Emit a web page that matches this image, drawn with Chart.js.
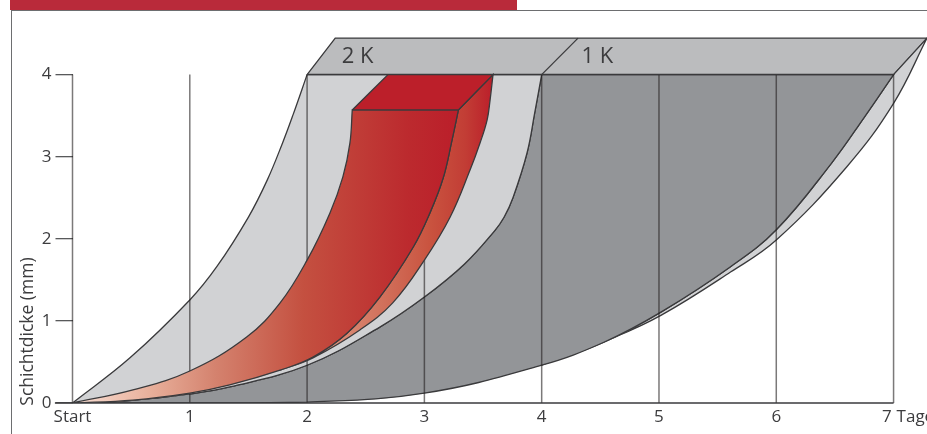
<!DOCTYPE html>
<html>
<head>
<meta charset="utf-8">
<script src="https://cdn.jsdelivr.net/npm/chart.js@4/dist/chart.umd.js"></script>
<style>
  html, body { margin: 0; background: #fff; overflow: hidden; }
  #wrap { position: relative; width: 927px; height: 434px; }
  #bar { position: absolute; left: 10px; top: 0; width: 507px; height: 10px; background: #b92a3a; }
  #frame { position: absolute; left: 11px; top: 10px; right: 0; bottom: 0; border-left: 1.5px solid #6d6e70; border-top: 1.5px solid #6d6e70; }
  canvas { position: absolute; left: 0; top: 0; }
</style>
</head>
<body>
<div id="wrap">
  <div id="bar"></div>
  <div id="frame"></div>
  <canvas id="chart" width="927" height="434"></canvas>
</div>
<script>
const xTickValues = [0, 1, 2, 3, 4, 5, 6, 7];
const xTickLabels = ['Start', '1', '2', '3', '4', '5', '6', '7   '];
const yTickValues = [0, 1, 2, 3, 4];
const yAxisTitle = 'Schichtdicke (mm)';
const xUnit = 'Tage';
const bandLabels = ['2 K', '1 K'];
const bandLabelDays = [2.295, 4.34];

// curves (days / mm)
const upper2kDays = [0, 0.49, 1, 1.23, 1.5, 1.66, 1.79, 1.88, 2];
const upper2kMm = [0, 0.55, 1.255, 1.66, 2.265, 2.715, 3.165, 3.51, 4];
const lower2kDays = [0, 0.486, 1, 1.34, 2, 2.62, 3, 3.34, 3.6, 3.68, 3.755, 3.875, 3.94, 4];
const lower2kMm = [0, 0.03, 0.11, 0.195, 0.46, 0.925, 1.29, 1.69, 2.1, 2.265, 2.5, 3.045, 3.53, 4];
const upper1kDays = [0, 1.09, 2, 3, 4, 4.53, 5.02, 5.61, 6, 6.47, 6.75, 7];
const upper1kMm = [0, 0, 0.01, 0.12, 0.46, 0.74, 1.11, 1.66, 2.11, 2.92, 3.48, 4];
const lower1kDays = [4, 4.62, 5.02, 5.61, 6, 6.6, 7, 7.285];
const lower1kMm = [0.46, 0.8, 1.07, 1.595, 1.985, 2.875, 3.65, 4.445];
const redLeftDays = [0, 0.515, 1, 1.485, 1.77, 2, 2.195, 2.305, 2.365, 2.385];
const redLeftMm = [0, 0.16, 0.39, 0.805, 1.22, 1.74, 2.315, 2.755, 3.165, 3.57];
const redRightDays = [0, 0.515, 1, 1.34, 1.77, 2.05, 2.34, 2.62, 2.905, 3.05, 3.16, 3.235, 3.29];
const redRightMm = [0, 0.035, 0.12, 0.22, 0.4, 0.56, 0.85, 1.29, 1.9, 2.325, 2.74, 3.2, 3.57];
const redSideDays = [1.77, 2.05, 2.45, 2.73, 3, 3.22, 3.39, 3.475, 3.535, 3.56, 3.585];
const redSideMm = [0.4, 0.55, 0.89, 1.22, 1.74, 2.265, 2.84, 3.17, 3.45, 3.69, 4];

const FONT = '"Open Sans", "Noto Sans", sans-serif';
const INK = '#3c3c3e';
const LIGHT = '#d1d2d4';
const DARK = '#939598';
const BAND = '#bbbcbe';

const pts = (xs, ys) => xs.map((x, i) => ({ x, y: ys[i] }));
const upper2k = pts(upper2kDays, upper2kMm);
const lower2k = pts(lower2kDays, lower2kMm);
const upper1k = pts(upper1kDays, upper1kMm);
const lower1k = pts(lower1kDays, lower1kMm);
const redLeft = pts(redLeftDays, redLeftMm);
const redRight = pts(redRightDays, redRightMm);
const redSide = pts(redSideDays, redSideMm);

// a repeated point keeps a sharp corner in the spline
const closed = (...parts) => {
  const path = parts.flat();
  return [...path, path[0]];
};

function shape(data, backgroundColor) {
  return { data, backgroundColor, borderColor: '#3a3a3c', borderWidth: 1.3, fill: 'shape', tension: 0.4, pointRadius: 0 };
}

function straight(data, borderColor, borderWidth) {
  return { data, borderColor, borderWidth, fill: false, tension: 0, pointRadius: 0, clip: false };
}

// horizontal gradient, stops given in days
function gradient(stops) {
  return context => {
    const { chart } = context;
    if (!chart.chartArea) return '#c0392b';
    const x = chart.scales.x;
    const x0 = x.getPixelForValue(stops[0][0]);
    const x1 = x.getPixelForValue(stops[stops.length - 1][0]);
    const g = chart.ctx.createLinearGradient(x0, 0, x1, 0);
    stops.forEach(([day, color]) => g.addColorStop((x.getPixelForValue(day) - x0) / (x1 - x0), color));
    return g;
  };
}

const frontStops = [[0, '#f9e0d5'], [0.66, '#e8b09b'], [1.22, '#d4826e'], [1.97, '#c45040'], [2.86, '#bc2a2e'], [3.29, '#bb1e2a']];
const sideStops = [[1.77, '#eab7a3'], [2.28, '#d98b75'], [3.05, '#c9533f'], [3.35, '#c23d35'], [3.585, '#bb1e2a']];

const verticals = xTickValues.map(day => straight(
  [{ x: day, y: 0 }, { x: day, y: 4 }], 'rgba(35,31,32,0.6)', 1.5
));

// back to front
const layers = [
  shape(closed([{ x: 2, y: 4 }, { x: 2, y: 4 }, { x: 2.24, y: 4.445 }, { x: 2.24, y: 4.445 }, { x: 7.285, y: 4.445 }, { x: 7.285, y: 4.445 }, { x: 7, y: 4 }, { x: 7, y: 4 }]), BAND),
  straight([{ x: 4, y: 4 }, { x: 4.31, y: 4.445 }], '#3a3a3c', 1.3),
  shape(closed(lower1k, [{ x: 7.285, y: 4.445 }, { x: 7, y: 4 }], upper1k.slice(4).reverse()), LIGHT),
  shape(closed(lower2k, [{ x: 4, y: 4 }], upper1k.slice(-1), upper1k.slice().reverse()), DARK),
  shape(closed(upper2k, [{ x: 2, y: 4 }, { x: 4, y: 4 }], lower2k.slice().reverse()), LIGHT),
  ...verticals,
  straight([{ x: -0.15, y: 0 }, { x: 7, y: 0 }], '#3a3a3c', 1.5),
  straight([{ x: 2, y: 4 }, { x: 7, y: 4 }], '#3a3a3c', 1.5),
  shape(closed(redRight.slice(4).reverse(), redSide, [{ x: 3.585, y: 4 }, { x: 3.29, y: 3.57 }]), gradient(sideStops)),
  shape(closed(redLeft, [{ x: 2.385, y: 3.57 }, { x: 3.29, y: 3.57 }], redRight.slice().reverse()), gradient(frontStops)),
  shape(closed([{ x: 2.385, y: 3.57 }, { x: 2.385, y: 3.57 }, { x: 2.69, y: 4 }, { x: 2.69, y: 4 }, { x: 3.585, y: 4 }, { x: 3.585, y: 4 }, { x: 3.29, y: 3.57 }, { x: 3.29, y: 3.57 }]), '#bc1f2a'),
];
layers.forEach((d, i) => { d.order = layers.length - i; });

const textPlugin = {
  id: 'texts',
  afterDraw(chart) {
    const { ctx, scales: { x, y } } = chart;
    ctx.save();
    ctx.fillStyle = INK;
    ctx.textBaseline = 'middle';
    ctx.textAlign = 'left';
    ctx.font = '22px ' + FONT;
    bandLabels.forEach((t, i) => ctx.fillText(t, x.getPixelForValue(bandLabelDays[i]), y.getPixelForValue(4.22)));
    ctx.font = '17px ' + FONT;
    ctx.fillText(xUnit, x.getPixelForValue(7) + 3, 417);
    ctx.translate(28, y.getPixelForValue(0.87));
    ctx.rotate(-Math.PI / 2);
    ctx.textAlign = 'center';
    ctx.font = '17.5px ' + FONT;
    ctx.fillText(yAxisTitle, 0, 0);
    ctx.restore();
  }
};

new Chart(document.getElementById('chart'), {
  type: 'scatter',
  data: { datasets: layers.map(d => ({ showLine: true, ...d })) },
  plugins: [textPlugin],
  options: {
    responsive: false,
    animation: false,
    layout: { padding: 0 },
    plugins: { legend: { display: false }, tooltip: { enabled: false } },
    scales: {
      x: {
        type: 'linear',
        min: 0,
        max: 7.285,
        border: { display: false },
        grid: { display: false, drawTicks: false },
        afterBuildTicks: scale => { scale.ticks = xTickValues.map(value => ({ value })); },
        afterFit: scale => { scale.height = 31; scale.paddingLeft = 0; scale.paddingRight = 0; },
        ticks: {
          autoSkip: false,
          maxRotation: 0,
          padding: 4,
          color: INK,
          font: { family: FONT, size: 17 },
          callback: value => xTickLabels[xTickValues.indexOf(value)]
        }
      },
      y: {
        type: 'linear',
        min: 0,
        max: 4.909,
        border: { display: false },
        grid: { drawOnChartArea: false, drawTicks: true, tickLength: 17, color: '#58595b', lineWidth: 1.3 },
        afterBuildTicks: scale => { scale.ticks = yTickValues.map(value => ({ value })); },
        afterFit: scale => { scale.width = 72.5; scale.paddingTop = 0; scale.paddingBottom = 0; },
        ticks: { padding: 4, color: INK, font: { family: FONT, size: 17 } }
      }
    }
  }
});
</script>
</body>
</html>
